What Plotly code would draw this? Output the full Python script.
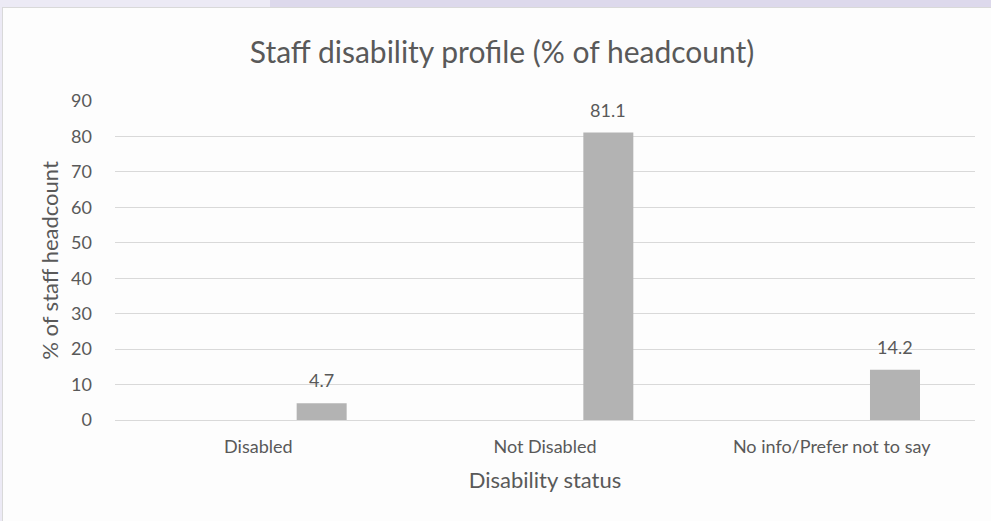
import plotly.graph_objects as go

categories = ["Disabled", "Not Disabled", "No info/Prefer not to say"]
values = [4.7, 81.1, 14.2]
value_labels = ["4.7", "81.1", "14.2"]
y_ticks = [0, 10, 20, 30, 40, 50, 60, 70, 80, 90]

FONT = "Lato, 'Open Sans', sans-serif"
TXT = "#595959"

BAR_OFFSET = 0.1337
BAR_WIDTH = 0.1744

fig = go.Figure()
fig.add_trace(go.Bar(
    x=categories, y=values,
    marker=dict(color="#b3b3b3", line=dict(width=0)),
    width=BAR_WIDTH, offset=BAR_OFFSET,
    hoverinfo="x+y",
    showlegend=False,
))

# data labels centred above each (offset) bar
for i, (v, lab) in enumerate(zip(values, value_labels)):
    fig.add_annotation(
        x=i + BAR_OFFSET + BAR_WIDTH / 2, y=v, xref="x", yref="y",
        text=lab, showarrow=False, yanchor="middle", yshift=23,
        font=dict(family=FONT, size=18, color=TXT),
    )

# plot area: x 115..975 px, y 101..420 px
def px_x(q):
    return (q - 115) / 860.0

def px_y(p):
    return (420 - p) / 319.0

shapes = [
    dict(type="rect", xref="paper", yref="paper", x0=px_x(-5), x1=px_x(1000),
         y0=px_y(7), y1=px_y(-5), fillcolor="#ECEAF5", line=dict(width=0), layer="below"),
    dict(type="rect", xref="paper", yref="paper", x0=px_x(270), x1=px_x(1000),
         y0=px_y(7), y1=px_y(-5), fillcolor="#DDD9EC", line=dict(width=0), layer="below"),
    dict(type="rect", xref="paper", yref="paper", x0=px_x(-5), x1=px_x(2),
         y0=px_y(530), y1=px_y(-5), fillcolor="#ECEAF5", line=dict(width=0), layer="below"),
    dict(type="line", xref="paper", yref="paper", x0=px_x(2), x1=px_x(1000),
         y0=px_y(7.5), y1=px_y(7.5), line=dict(color="#D9D9D9", width=1), layer="below"),
    dict(type="line", xref="paper", yref="paper", x0=px_x(2.5), x1=px_x(2.5),
         y0=px_y(530), y1=px_y(7.5), line=dict(color="#D9D9D9", width=1), layer="below"),
]

fig.update_layout(
    width=991, height=521,
    margin=dict(l=115, r=16, t=101, b=101),
    paper_bgcolor="#FDFDFD",
    plot_bgcolor="rgba(0,0,0,0)",
    shapes=shapes,
    title=dict(text="Staff disability profile (% of headcount)",
               x=0.5066, xanchor="center", y=0.900, yanchor="middle",
               font=dict(family=FONT, size=30, color=TXT)),
    xaxis=dict(
        title=dict(text="Disability status", font=dict(family=FONT, size=22, color=TXT), standoff=16),
        tickfont=dict(family=FONT, size=18, color=TXT),
        showgrid=False, showline=False, ticks="",
        range=[-0.5, 2.5], ticklabelstandoff=14,
    ),
    yaxis=dict(
        title=dict(text="% of staff headcount", font=dict(family=FONT, size=22, color=TXT), standoff=6),
        tickfont=dict(family=FONT, size=18, color=TXT),
        range=[0, 90], tickvals=y_ticks,
        showgrid=True, gridcolor="#D9D9D9", gridwidth=1,
        zeroline=True, zerolinecolor="#D9D9D9", zerolinewidth=1,
        ticks="", ticklabelstandoff=22,
    ),
)

fig.write_html(
    "out.html",
    config={"displayModeBar": False},
    post_script="document.body.style.margin='0';document.body.style.overflow='hidden';",
)
